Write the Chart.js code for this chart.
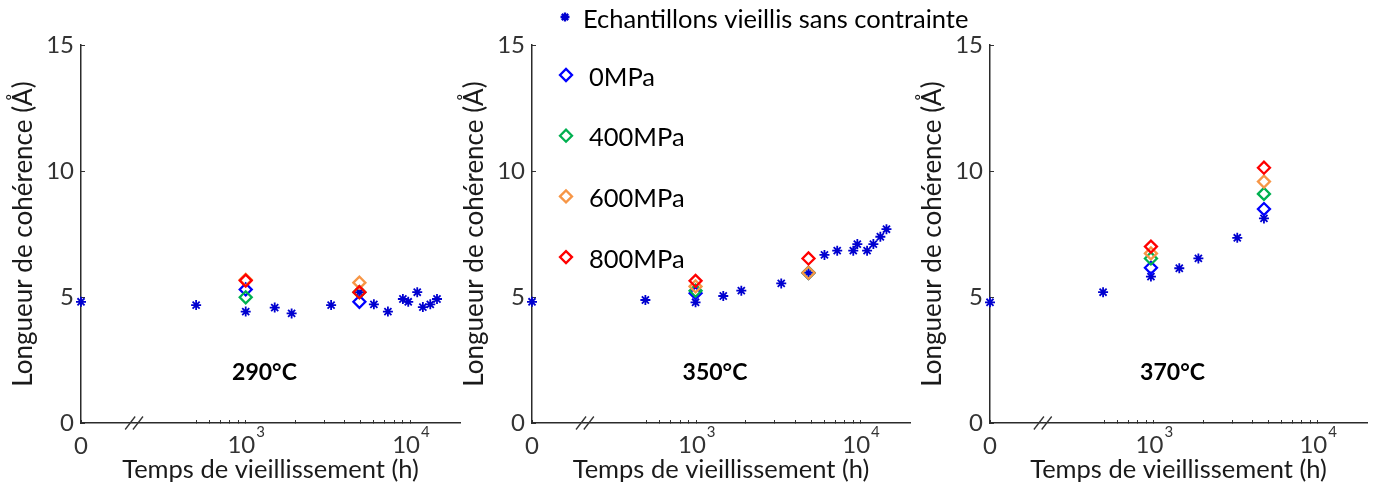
<!DOCTYPE html>
<html lang="fr">
<head>
<meta charset="utf-8">
<title>Longueur de cohérence</title>
<script src="https://cdn.jsdelivr.net/npm/chart.js@4.4.1/dist/chart.umd.min.js"></script>
<style>
  body { margin: 0; background: #fff; }
  .stage { position: relative; width: 1378px; height: 488px; }
  .stage canvas { position: absolute; left: 0; top: 0; }
</style>
</head>
<body>
<div class="stage">
  <canvas id="chart290" width="1378" height="488"></canvas>
  <canvas id="chart350" width="1378" height="488"></canvas>
  <canvas id="chart370" width="1378" height="488"></canvas>
</div>
<script>
// time axis is log, 100 h is shown as "0" (broken axis)
const xTickValues = [100, 500, 600, 700, 800, 900, 1000, 2000, 3000, 4000, 5000, 6000, 7000, 8000, 9000, 10000];
const xTickLabels = ["0", "", "", "", "", "", "10^3", "", "", "", "", "", "", "", "", "10^4"];
const yTickValues = [0, 5, 10, 15];

// 290°C
const times290 = [100, 500, 1000, 1500, 1900, 3300, 4900, 6000, 7300, 9000, 9700, 11000, 11900, 13200, 14500];
const lengths290 = [4.81, 4.68, 4.42, 4.58, 4.35, 4.68, 5.19, 4.71, 4.42, 4.92, 4.81, 5.19, 4.6, 4.71, 4.92];
const stressTimes290 = [1000, 4900];
const mpa0_290 = [5.3, 4.81];
const mpa400_290 = [4.99, 5.19];
const mpa600_290 = [5.68, 5.57];
const mpa800_290 = [5.65, 5.19];

// 350°C
const times350 = [100, 490, 990, 1460, 1880, 3290, 4820, 6030, 7210, 9030, 9560, 10960, 11970, 13200, 14380];
const lengths350 = [4.81, 4.88, 4.79, 5.04, 5.25, 5.54, 5.96, 6.67, 6.84, 6.84, 7.1, 6.84, 7.1, 7.39, 7.69];
const stressTimes350 = [990, 4820];
const mpa0_350 = [5.15, 5.96];
const mpa400_350 = [5.25, 5.96];
const mpa600_350 = [5.42, 5.96];
const mpa800_350 = [5.64, 6.53];

// 370°C
const times370 = [100, 490, 960, 1430, 1870, 3230, 4700];
const lengths370 = [4.79, 5.19, 5.81, 6.14, 6.53, 7.35, 8.12];
const stressTimes370 = [960, 4700];
const mpa0_370 = [6.16, 8.49];
const mpa400_370 = [6.53, 9.09];
const mpa600_370 = [6.73, 9.58];
const mpa800_370 = [7.0, 10.13];

const legendLabels = ["Echantillons vieillis sans contrainte", "0MPa", "400MPa", "600MPa", "800MPa"];
const seriesColors = ["#0000D0", "#0000FF", "#00B050", "#F79646", "#FF0000"];

const FONT = "Lato, 'Open Sans', sans-serif";
const TICK_COLOR = "#333";
Chart.defaults.font.family = FONT;
Chart.defaults.animation = false;

function points(xs, ys) {
  return xs.map((x, i) => ({ x: x, y: ys[i] }));
}

// break marks, 10^n labels and temperature label
const panelDecor = {
  id: "panelDecor",
  afterDraw(chart, args, opts) {
    const ctx = chart.ctx;
    const x = chart.scales.x;
    const y = chart.scales.y;
    const axisY = y.getPixelForValue(0);
    ctx.save();

    // "//" on the time axis
    const bx = x.getPixelForValue(210);
    ctx.strokeStyle = "#333";
    ctx.lineWidth = 1.3;
    [-3.9, 3.9].forEach((d) => {
      ctx.beginPath();
      ctx.moveTo(bx + d - 5, axisY + 6.5);
      ctx.lineTo(bx + d + 5, axisY - 6.5);
      ctx.stroke();
    });

    // powers of ten with a real superscript
    ctx.fillStyle = TICK_COLOR;
    ctx.textBaseline = "alphabetic";
    ctx.textAlign = "left";
    xTickValues.forEach((v, i) => {
      const lab = xTickLabels[i];
      if (lab.indexOf("^") < 0) return;
      const parts = lab.split("^");
      const px = x.getPixelForValue(v);
      ctx.font = "24px " + FONT;
      const wb = ctx.measureText(parts[0]).width;
      ctx.font = "15px " + FONT;
      const we = ctx.measureText(parts[1]).width;
      const left = px - (wb + we) / 2;
      ctx.font = "24px " + FONT;
      ctx.fillText(parts[0], left, axisY + 30);
      ctx.font = "15px " + FONT;
      ctx.fillText(parts[1], left + wb + 1, axisY + 14);
    });

    // temperature
    ctx.font = "bold 23px " + FONT;
    ctx.fillStyle = "#000";
    ctx.textAlign = "center";
    ctx.textBaseline = "middle";
    ctx.fillText(opts.temp, x.getPixelForValue(1300), y.getPixelForValue(2));
    ctx.restore();
  },
};

// legend drawn once, next to the middle panel
const sharedLegend = {
  id: "sharedLegend",
  afterDraw(chart) {
    const ctx = chart.ctx;
    const area = chart.chartArea;
    ctx.save();
    ctx.font = "25.5px " + FONT;
    ctx.textAlign = "left";
    ctx.textBaseline = "middle";
    legendLabels.forEach((label, i) => {
      const star = i === 0;
      const mx = area.left + (star ? 33 : 34);
      const my = star ? area.top - 28 : area.top + 30 + (i - 1) * 60.7;
      ctx.strokeStyle = seriesColors[i];
      ctx.fillStyle = "rgba(0,0,0,0)";
      Chart.helpers.drawPoint(ctx, {
        pointStyle: star ? "star" : "rectRot",
        radius: star ? 4.5 : 6,
        borderWidth: star ? 1.6 : 2.5,
        rotation: 0,
      }, mx, my);
      ctx.fillStyle = "#000";
      ctx.fillText(label, star ? area.left + 51 : area.left + 57, my + 2.5);
    });
    ctx.restore();
  },
};

function buildPanel(id, left, right, temp, times, lengths, stressTimes, stress, extraPlugins) {
  const datasets = [
    {
      label: legendLabels[0],
      data: points(times, lengths),
      pointStyle: "star",
      pointRadius: 5,
      pointBorderWidth: 1.8,
      borderColor: seriesColors[0],
      backgroundColor: "rgba(0,0,0,0)",
      clip: false,
      order: 5,
    },
  ];
  stress.forEach((vals, i) => {
    datasets.push({
      label: legendLabels[i + 1],
      data: points(stressTimes, vals),
      pointStyle: "rectRot",
      pointRadius: 6,
      pointBorderWidth: 2.3,
      borderColor: seriesColors[i + 1],
      backgroundColor: "rgba(0,0,0,0)",
      clip: false,
      order: 4 - i,
    });
  });

  new Chart(document.getElementById(id), {
    type: "scatter",
    data: { datasets: datasets },
    options: {
      responsive: false,
      events: [],
      layout: { padding: { left: left - 80, right: 1378 - right, top: 45, bottom: 0 } },
      plugins: {
        legend: { display: false },
        tooltip: { enabled: false },
        panelDecor: { temp: temp },
      },
      scales: {
        x: {
          type: "logarithmic",
          min: 100,
          max: 20000,
          afterBuildTicks: (scale) => {
            scale.ticks = xTickValues.map((v) => ({ value: v }));
          },
          afterFit: (scale) => {
            scale.height = 65;
          },
          ticks: {
            autoSkip: false,
            maxRotation: 0,
            padding: 12,
            color: TICK_COLOR,
            font: { size: 24 },
            callback: (value, index) =>
              xTickLabels[index] && xTickLabels[index].indexOf("^") < 0 ? xTickLabels[index] : "",
          },
          grid: { drawOnChartArea: false, tickLength: -3, tickColor: TICK_COLOR },
          border: { color: "#2b2b2b", width: 1.5 },
          title: {
            display: true,
            text: "Temps de vieillissement (h)",
            color: "#1a1a1a",
            font: { size: 25.5 },
            padding: { top: 0, bottom: 3 },
          },
        },
        y: {
          min: 0,
          max: 15,
          afterBuildTicks: (scale) => {
            scale.ticks = yTickValues.map((v) => ({ value: v }));
          },
          afterFit: (scale) => {
            scale.width = 80;
          },
          ticks: { padding: 11, color: TICK_COLOR, font: { size: 24 } },
          grid: { drawOnChartArea: false, tickLength: -4, tickColor: TICK_COLOR },
          border: { color: "#2b2b2b", width: 1.5 },
          title: {
            display: true,
            text: "Longueur de cohérence (Å)",
            color: "#1a1a1a",
            font: { size: 26 },
            padding: { top: 7, bottom: 0 },
          },
        },
      },
    },
    plugins: [panelDecor].concat(extraPlugins || []),
  });
}

buildPanel("chart290", 81, 460, "290°C", times290, lengths290, stressTimes290,
  [mpa0_290, mpa400_290, mpa600_290, mpa800_290]);
buildPanel("chart350", 532, 910, "350°C", times350, lengths350, stressTimes350,
  [mpa0_350, mpa400_350, mpa600_350, mpa800_350], [sharedLegend]);
buildPanel("chart370", 990, 1367, "370°C", times370, lengths370, stressTimes370,
  [mpa0_370, mpa400_370, mpa600_370, mpa800_370]);
</script>
</body>
</html>
